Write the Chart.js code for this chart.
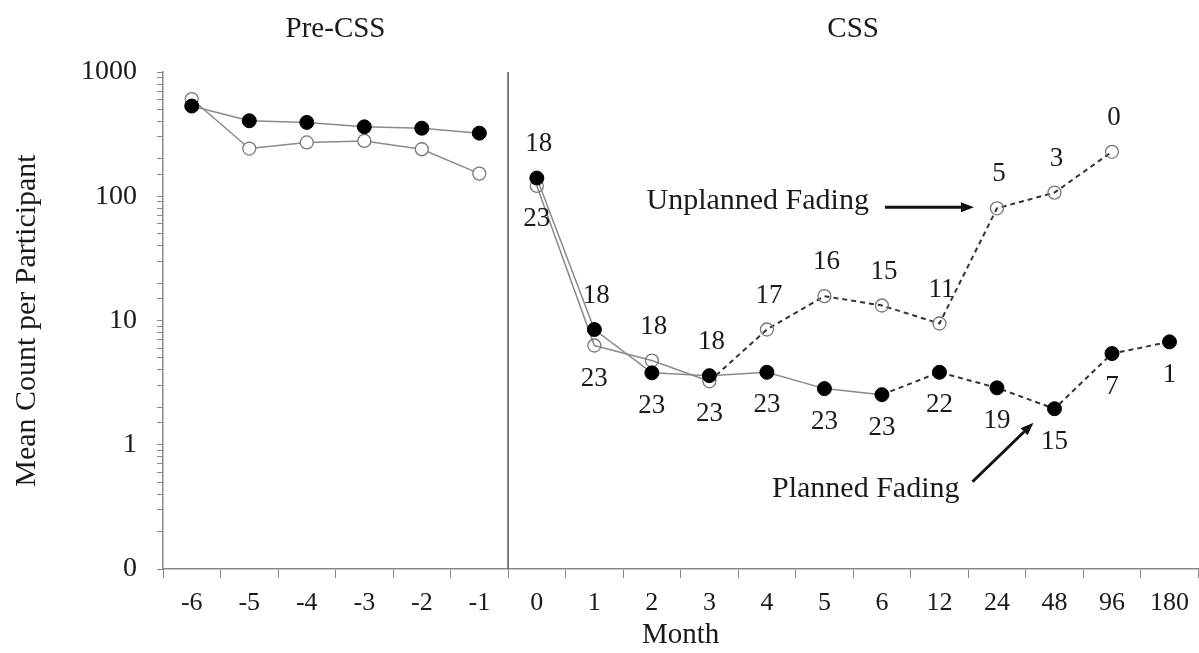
<!DOCTYPE html>
<html>
<head>
<meta charset="utf-8">
<script src="https://cdn.jsdelivr.net/npm/chart.js@4"></script>
<style>
  body { margin: 0; background: #fff; }
</style>
</head>
<body>
<canvas id="myChart" width="1199" height="653"></canvas>
<script>
// months on the x axis (categories)
const months = ['-6', '-5', '-4', '-3', '-2', '-1', '0', '1', '2', '3', '4', '5', '6', '12', '24', '48', '96', '180'];

// mean count per participant
const planned = [532, 405, 393, 362, 353, 322, 140, 8.46, 3.79, 3.6, 3.83, 2.83, 2.53, 3.83, 2.87, 1.95, 5.42, 6.73];
const unplanned = [606, 242, 271, 279, 239, 152, 121, 6.29, 4.76, 3.24, 8.46, 15.7, 13.2, 9.46, 80, 107, 228, null];

// participants per month in the CSS phase (from month 0)
const plannedN = [23, 23, 23, 23, 23, 23, 23, 22, 19, 15, 7, 1];
const unplannedN = [18, 18, 18, 18, 17, 16, 15, 11, 5, 3, 0];

// y tick values that get a label (0.1 is shown as "0")
const yLabels = { 0.1: '0', 1: '1', 10: '10', 100: '100', 1000: '1000' };

const phases = [
  { text: 'Pre-CSS', from: 0, to: 5 },
  { text: 'CSS', from: 6, to: 17 }
];

const serif = '"Liberation Serif", "DejaVu Serif", serif';
const gapIndex = 5; // no line between -1 and 0

function segStyle(dashFrom) {
  return {
    borderColor: ctx => ctx.p0DataIndex === gapIndex ? 'rgba(0,0,0,0)' : (ctx.p0DataIndex >= dashFrom ? '#333' : '#8a8a8a'),
    borderDash: ctx => ctx.p0DataIndex >= dashFrom ? [5, 4] : undefined,
    borderWidth: ctx => ctx.p0DataIndex >= dashFrom ? 2 : 1.5
  };
}

// extras: phase titles, divider, n labels, annotations
const extras = {
  id: 'extras',
  afterDatasetsDraw(chart) {
    const c = chart.ctx;
    const x = chart.scales.x, y = chart.scales.y;
    const area = chart.chartArea;
    c.save();

    // divider between pre-CSS and CSS
    const xd = (x.getPixelForValue(gapIndex) + x.getPixelForValue(gapIndex + 1)) / 2;
    c.strokeStyle = '#555';
    c.lineWidth = 1.5;
    c.beginPath();
    c.moveTo(xd, area.top);
    c.lineTo(xd, area.bottom);
    c.stroke();

    c.fillStyle = '#1a1a1a';
    c.textAlign = 'center';
    c.textBaseline = 'middle';

    c.font = '29px ' + serif;
    phases.forEach(p => {
      const cx = (x.getPixelForValue(p.from) + x.getPixelForValue(p.to)) / 2;
      c.fillText(p.text, cx, 29);
    });

    // n labels: unplanned above, planned below
    c.font = '27px ' + serif;
    const start = gapIndex + 1;
    for (let i = start; i < months.length; i++) {
      const k = i - start;
      const yp = y.getPixelForValue(planned[i]);
      const yu = unplanned[i] == null ? null : y.getPixelForValue(unplanned[i]);
      const top = yu == null ? yp : Math.min(yp, yu);
      const bot = yu == null ? yp : Math.max(yp, yu);
      const px = x.getPixelForValue(i);
      if (k < unplannedN.length) c.fillText(String(unplannedN[k]), px + 2, top - 34);
      if (k < plannedN.length) c.fillText(String(plannedN[k]), px, bot + 33);
    }

    // annotations
    c.font = '30px ' + serif;
    c.textAlign = 'right';
    const iu = months.indexOf('24');
    const ux = x.getPixelForValue(iu), uy = y.getPixelForValue(unplanned[iu]);
    c.fillText('Unplanned Fading', ux - 128, uy - 7);
    arrow(c, ux - 112, uy - 1, ux - 23, uy - 1);

    const ip = months.indexOf('48');
    const qx = x.getPixelForValue(ip), qy = y.getPixelForValue(planned[ip]);
    c.fillText('Planned Fading', qx - 95, qy + 80);
    arrow(c, qx - 82, qy + 73, qx - 21, qy + 14);

    c.restore();
  }
};

function arrow(c, x0, y0, x1, y1) {
  const a = Math.atan2(y1 - y0, x1 - x0);
  const len = 13, w = 5;
  const bx = x1 - len * Math.cos(a), by = y1 - len * Math.sin(a);
  c.strokeStyle = '#111';
  c.fillStyle = '#111';
  c.lineWidth = 3;
  c.beginPath();
  c.moveTo(x0, y0);
  c.lineTo(bx, by);
  c.stroke();
  c.beginPath();
  c.moveTo(x1, y1);
  c.lineTo(bx - w * Math.sin(a), by + w * Math.cos(a));
  c.lineTo(bx + w * Math.sin(a), by - w * Math.cos(a));
  c.closePath();
  c.fill();
  c.fillStyle = '#1a1a1a';
}

let ctx = document.getElementById('myChart').getContext('2d');
let chart = new Chart(ctx, {
  type: 'line',
  data: {
    labels: months,
    datasets: [{
      label: 'Planned Fading',
      data: planned,
      pointRadius: 7,
      pointBackgroundColor: '#000',
      pointBorderColor: '#000',
      pointBorderWidth: 1,
      borderColor: '#8a8a8a',
      borderWidth: 1.5,
      segment: segStyle(12),
      spanGaps: false,
      tension: 0
    }, {
      label: 'Unplanned Fading',
      data: unplanned,
      pointRadius: 6.5,
      pointBackgroundColor: c => c.dataIndex <= gapIndex ? '#fff' : 'rgba(255,255,255,0)',
      pointBorderColor: '#777',
      pointBorderWidth: 1.3,
      borderColor: '#8a8a8a',
      borderWidth: 1.5,
      segment: segStyle(9),
      spanGaps: false,
      tension: 0
    }]
  },
  options: {
    responsive: false,
    animation: false,
    layout: { autoPadding: false, padding: { top: 72, right: 0, left: 0, bottom: 0 } },
    plugins: {
      legend: { display: false },
      tooltip: { enabled: false }
    },
    scales: {
      x: {
        type: 'category',
        offset: true,
        afterFit: s => { s.height = 84; },
        grid: { offset: true, drawOnChartArea: false, drawTicks: true, tickLength: 9, color: '#888' },
        border: { display: true, color: '#888', width: 1.5 },
        ticks: { color: '#1a1a1a', font: { family: serif, size: 26 }, padding: 10, maxRotation: 0, autoSkip: false },
        title: { display: true, text: 'Month', color: '#1a1a1a', font: { family: serif, size: 29 }, padding: { top: 0, bottom: 0 } }
      },
      y: {
        type: 'logarithmic',
        min: 0.1,
        max: 1000,
        afterFit: s => { s.width = 163; },
        grid: { drawOnChartArea: false, drawTicks: true, tickLength: 6, color: '#888' },
        border: { display: true, color: '#888', width: 1.5 },
        ticks: {
          color: '#1a1a1a',
          font: { family: serif, size: 28 },
          padding: 20,
          autoSkip: false,
          callback: v => yLabels[v] !== undefined ? yLabels[v] : ''
        },
        title: { display: true, text: 'Mean Count per Participant', color: '#1a1a1a', font: { family: serif, size: 30 }, padding: { top: 9, bottom: 0 } }
      }
    }
  },
  plugins: [extras]
});
</script>
</body>
</html>
